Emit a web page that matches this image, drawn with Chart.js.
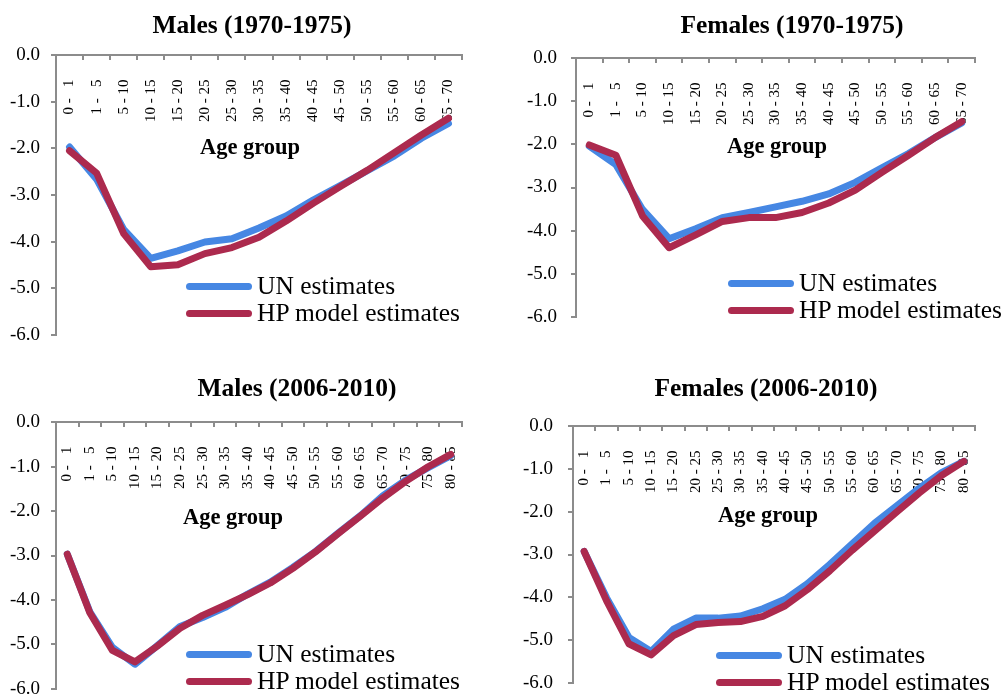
<!DOCTYPE html>
<html>
<head>
<meta charset="utf-8">
<script src="https://cdn.jsdelivr.net/npm/chart.js@4/dist/chart.umd.min.js"></script>
<style>
  html, body { margin: 0; padding: 0; background: #fff; }
  body { width: 1006px; height: 698px; position: relative; overflow: hidden; font-family: "Liberation Serif", "Times New Roman", serif; }
  canvas { position: absolute; }
  .title { position: absolute; transform: translate(-50%, -50%); font-weight: bold; font-size: 25.5px; line-height: 1; white-space: nowrap; color: #000; }
  .axt { position: absolute; transform: translate(-50%, -50%); font-weight: bold; font-size: 22.5px; line-height: 1; white-space: nowrap; color: #000; }
  .leg { position: absolute; height: 26px; display: flex; align-items: center; font-size: 25.5px; line-height: 1; white-space: nowrap; color: #000; }
  .leg span.sw { display: inline-block; width: 66px; height: 7px; border-radius: 4px; margin-right: 5px; }
</style>
</head>
<body>
<canvas id="c1"></canvas>
<canvas id="c2"></canvas>
<canvas id="c3"></canvas>
<canvas id="c4"></canvas>

<script>
// ---- data ----
const ageGroups1970 = ["0 -   1","1 -   5","5 - 10","10 - 15","15 - 20","20 - 25","25 - 30","30 - 35","35 - 40","40 - 45","45 - 50","50 - 55","55 - 60","60 - 65","65 - 70"];
const ageGroups2006 = ["0 -   1","1 -   5","5 - 10","10 - 15","15 - 20","20 - 25","25 - 30","30 - 35","35 - 40","40 - 45","45 - 50","50 - 55","55 - 60","60 - 65","65 - 70","70 - 75","75 - 80","80 - 85"];

const unMales1970   = [-1.97, -2.66, -3.74, -4.36, -4.20, -4.01, -3.94, -3.71, -3.45, -3.11, -2.80, -2.48, -2.16, -1.78, -1.46];
const hpMales1970   = [-2.05, -2.53, -3.83, -4.54, -4.50, -4.26, -4.13, -3.91, -3.56, -3.18, -2.82, -2.47, -2.09, -1.71, -1.35];
const unFemales1970 = [-2.04, -2.47, -3.51, -4.19, -3.96, -3.70, -3.58, -3.45, -3.32, -3.15, -2.88, -2.54, -2.21, -1.84, -1.50];
const hpFemales1970 = [-2.01, -2.25, -3.66, -4.40, -4.10, -3.79, -3.70, -3.70, -3.58, -3.36, -3.06, -2.65, -2.25, -1.84, -1.47];
const unMales2006   = [-2.97, -4.27, -5.07, -5.45, -5.03, -4.60, -4.40, -4.17, -3.87, -3.60, -3.27, -2.91, -2.50, -2.10, -1.65, -1.30, -1.02, -0.75];
const hpMales2006   = [-2.97, -4.29, -5.14, -5.40, -5.04, -4.64, -4.35, -4.12, -3.88, -3.62, -3.29, -2.92, -2.51, -2.11, -1.70, -1.33, -1.00, -0.72];
const unFemales2006 = [-2.93, -4.01, -4.94, -5.27, -4.75, -4.49, -4.49, -4.44, -4.27, -4.05, -3.68, -3.23, -2.75, -2.27, -1.86, -1.45, -1.08, -0.82];
const hpFemales2006 = [-2.93, -4.08, -5.09, -5.35, -4.90, -4.64, -4.59, -4.57, -4.45, -4.20, -3.82, -3.38, -2.90, -2.45, -2.00, -1.56, -1.15, -0.82];

const seriesNames = ["UN estimates", "HP model estimates"];
const panelTitles = ["Males (1970-1975)", "Females (1970-1975)", "Males (2006-2010)", "Females (2006-2010)"];
const xAxisTitle = "Age group";
const yMin = -6, yMax = 0, yStep = 1;

// ---- styles ----
const BLUE = "#4687e3";
const RED = "#ac2a4e";
const AXIS = "#8c8c8c";
const FONT = "'Liberation Serif', 'Times New Roman', serif";

const panels = [
  { id: "c1", labels: ageGroups1970, un: unMales1970, hp: hpMales1970, title: panelTitles[0],
    area: { l: 56, r: 462, t: 53, b: 337 }, yPad: 11,
    titlePos: [252, 25], axtPos: [250, 147], legPos: [187, 286] },
  { id: "c2", labels: ageGroups1970, un: unFemales1970, hp: hpFemales1970, title: panelTitles[1],
    area: { l: 576, r: 975, t: 53, b: 322 }, yPad: 14,
    titlePos: [792, 25], axtPos: [777, 146], legPos: [729, 283] },
  { id: "c3", labels: ageGroups2006, un: unMales2006, hp: hpMales2006, title: panelTitles[2],
    area: { l: 56, r: 462, t: 420, b: 691 }, yPad: 11,
    titlePos: [297, 388], axtPos: [233, 517], legPos: [187, 654] },
  { id: "c4", labels: ageGroups2006, un: unFemales2006, hp: hpFemales2006, title: panelTitles[3],
    area: { l: 573, r: 975, t: 420, b: 689 }, yPad: 15,
    titlePos: [766, 388], axtPos: [768, 515], legPos: [717, 655] }
];

const AXW = 56, PT = 20, PB = 20, PR = 15;

function addText(cls, text, x, y) {
  const d = document.createElement("div");
  d.className = cls;
  d.textContent = text;
  d.style.left = x + "px";
  d.style.top = y + "px";
  document.body.appendChild(d);
}

function addLegend(x, y) {
  const rows = [[seriesNames[0], BLUE, y], [seriesNames[1], RED, y + 27]];
  rows.forEach(([name, color, yy]) => {
    const d = document.createElement("div");
    d.className = "leg";
    d.style.left = (x - 1) + "px";
    d.style.top = (yy - 13) + "px";
    const sw = document.createElement("span");
    sw.className = "sw";
    sw.style.background = color;
    d.appendChild(sw);
    d.appendChild(document.createTextNode(name));
    document.body.appendChild(d);
  });
}

panels.forEach(p => {
  const cv = document.getElementById(p.id);
  const w = (p.area.r - p.area.l) + AXW + PR;
  const h = (p.area.b - p.area.t) + PT + PB;
  cv.width = w; cv.height = h;
  cv.style.width = w + "px"; cv.style.height = h + "px";
  cv.style.left = (p.area.l - AXW) + "px";
  cv.style.top = (p.area.t - PT) + "px";

  new Chart(cv.getContext("2d"), {
    type: "line",
    data: {
      labels: p.labels,
      datasets: [
        { label: seriesNames[0], data: p.un, borderColor: BLUE, backgroundColor: BLUE, order: 2,
          borderWidth: 7, pointRadius: 0, tension: 0, borderJoinStyle: "round", borderCapStyle: "round" },
        { label: seriesNames[1], data: p.hp, borderColor: RED, backgroundColor: RED, order: 1,
          borderWidth: 7, pointRadius: 0, tension: 0, borderJoinStyle: "round", borderCapStyle: "round" }
      ]
    },
    options: {
      responsive: false,
      animation: false,
      devicePixelRatio: 1,
      layout: { padding: { top: PT, bottom: PB, left: 0, right: PR } },
      plugins: { legend: { display: false }, title: { display: false }, tooltip: { enabled: false } },
      scales: {
        x: {
          type: "category",
          position: { y: 0 },
          offset: true,
          border: { display: false },
          grid: { display: true, offset: true, drawOnChartArea: false, drawTicks: true, tickLength: 21,
                  tickColor: "rgba(0,0,0,0)", color: "rgba(0,0,0,0)" },
          ticks: { autoSkip: false, minRotation: 90, maxRotation: 90, color: "#000",
                   font: { family: FONT, size: 15 } }
        },
        xTicks: {
          type: "category",
          labels: p.labels,
          position: { y: 0 },
          offset: true,
          border: { display: true, color: AXIS, width: 2 },
          grid: { display: true, offset: true, drawOnChartArea: false, drawTicks: true, tickLength: 4,
                  color: AXIS, tickColor: AXIS, lineWidth: 2 },
          ticks: { display: false }
        },
        y: {
          type: "linear",
          position: "left",
          min: yMin, max: yMax,
          afterFit: s => { s.width = AXW; },
          border: { display: true, color: AXIS, width: 2 },
          grid: { display: true, drawOnChartArea: false, drawTicks: true, tickLength: 5, color: AXIS, lineWidth: 2 },
          ticks: { stepSize: yStep, padding: p.yPad, color: "#000", font: { family: FONT, size: 19 },
                   callback: v => Number(v).toFixed(1) }
        }
      }
    }
  });

  addText("title", p.title, p.titlePos[0], p.titlePos[1]);
  addText("axt", xAxisTitle, p.axtPos[0], p.axtPos[1]);
  addLegend(p.legPos[0], p.legPos[1]);
});
</script>
</body>
</html>
